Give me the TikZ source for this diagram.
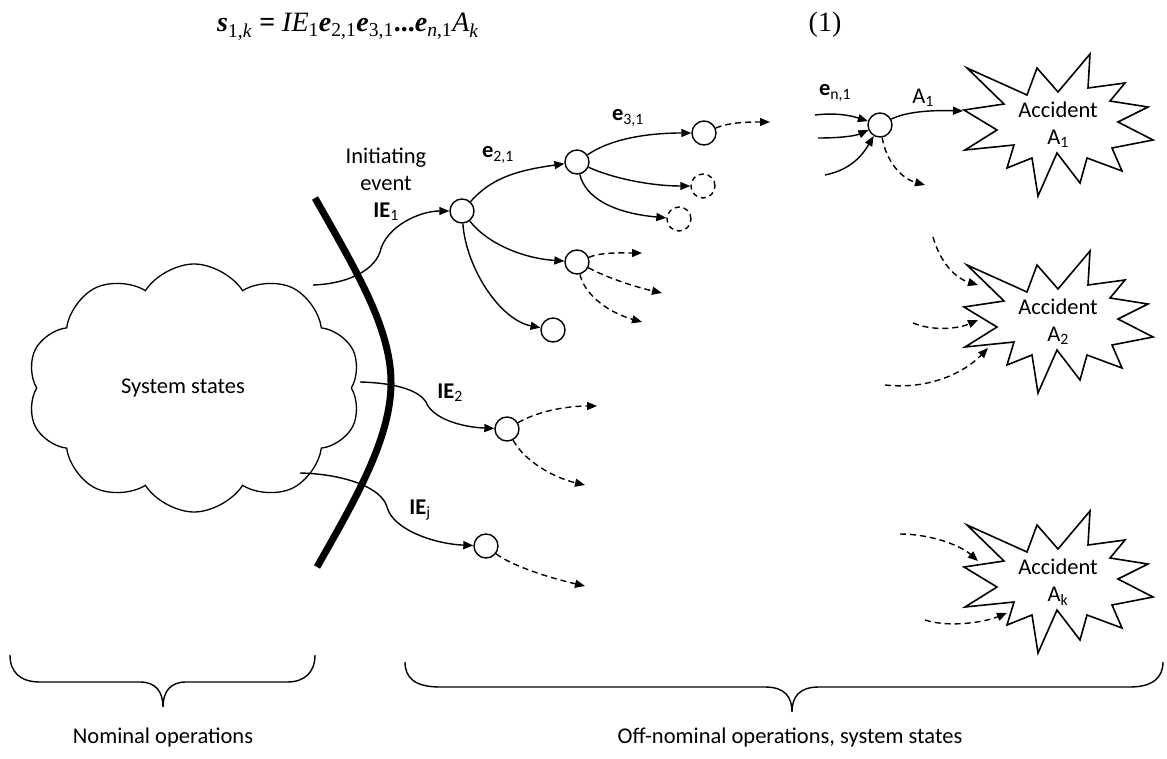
\documentclass[tikz,border=0pt]{standalone}
\usepackage{fontspec}
\setmainfont{Carlito}
\newfontfamily\eqfont{Liberation Serif}
\usetikzlibrary{arrows.meta,shapes.symbols}
\tikzset{
  every node/.style={font=\fontsize{22.5}{27}\selectfont, inner sep=0pt},
  conn/.style={line width=1.4pt, -{Triangle[length=10pt,width=8pt]}},
  dconn/.style={conn, dash pattern=on 6pt off 4pt},
  state/.style={circle, draw, line width=1.4pt, minimum size=24pt, fill=white},
  dstate/.style={state, dash pattern=on 5pt off 4pt},
  burst/.style={line width=1.6pt, line join=miter},
  brace/.style={line width=1.4pt},
  boundary/.style={line width=7pt},
  eqstyle/.style={font=\eqfont\fontsize{28}{34}\selectfont},
}
\begin{document}
\begin{tikzpicture}[x=1pt,y=-1pt]
\useasboundingbox (0,0) rectangle (1167,759);

% equation
\node[eqstyle, anchor=base west] (eq) at (217,32) {\textbf{\textit{s}}\textsubscript{1,\textit{k}} \textbf{=} \textit{IE}\textsubscript{1}\textbf{\textit{e}}\textsubscript{2,1}\textbf{\textit{e}}\textsubscript{3,1}\textbf{...}\textbf{\textit{e}}\textsubscript{\textit{n},1}\textit{A}\textsubscript{\textit{k}}};
\node[eqstyle, anchor=base] (eqn) at (825,32) {(1)};

% cloud
\node[cloud, draw, line width=1.3pt, cloud puffs=10, cloud puff arc=115, minimum width=334pt, minimum height=248pt] (cloud) at (194,388) {};
\node (systxt) at (183,388) {System states};

% boundary
\draw[boundary] (315,198) .. controls (357,272) and (392,330) .. (391,385) .. controls (390,440) and (355,500) .. (317,567);

% state nodes
\node[state] (C1) at (462,211) {};
\node[state] (C2) at (577,162) {};
\node[state] (C3) at (577,262) {};
\node[state] (C4) at (553,330) {};
\node[state] (C5) at (704,133) {};
\node[dstate] (D1) at (703,186) {};
\node[dstate] (D2) at (679,219) {};
\node[state] (Cn) at (880,125) {};
\node[state] (F2) at (507,429) {};
\node[state] (Fj) at (486,546) {};

% labels
\node[align=center] (lIE1) at (386,184) {Initiating\\event\\\textbf{IE}\textsubscript{1}};
\node (le21) at (498,155) {\textbf{e}\textsubscript{2,1}};
\node (le31) at (628,118) {\textbf{e}\textsubscript{3,1}};
\node (len1) at (835,93) {\textbf{e}\textsubscript{n,1}};
\node (lA1) at (923,98) {A\textsubscript{1}};
\node (lIE2) at (450,393) {\textbf{IE}\textsubscript{2}};
\node (lIEj) at (420,510) {\textbf{IE}\textsubscript{j}};

% bursts
\node[align=center] (A1) at (1058,125) {Accident\\A\textsubscript{1}};
\node[align=center] (A2) at (1058,322) {Accident\\A\textsubscript{2}};
\node[align=center] (Ak) at (1058,582) {Accident\\A\textsubscript{k}};
\foreach \b in {A1,A2,Ak}{
  \draw[burst, shift={(\b.center)}] (-91,-57) -- (-31,-30) -- (-21,-57) -- (0,-33) -- (32,-71) -- (30,-37) -- (67,-42) -- (52,-24) -- (90,-18) -- (60,-3) -- (95,15) -- (54,23) -- (64,46) -- (29,33) -- (22,58) -- (-1,28) -- (-20,71) -- (-26,33) -- (-51,43) -- (-44,20) -- (-93,25) -- (-61,5) -- (-94,-15) -- (-54,-21) -- cycle;
}

% coordinates
\coordinate (s1) at (313,285);
\coordinate (s2) at (360,382);
\coordinate (sj) at (300,473);
\coordinate (t31) at (642,253);
\coordinate (t32) at (662,293);
\coordinate (t33) at (642,322);
\coordinate (t51) at (770,122);
\coordinate (n1) at (815,115);
\coordinate (n2) at (818,138);
\coordinate (n3) at (825,175);
\coordinate (a1in) at (963,111);
\coordinate (cnout) at (925,185);
\coordinate (b1) at (933,237);
\coordinate (b1e) at (978,285);
\coordinate (b2) at (913,323);
\coordinate (b2e) at (978,320);
\coordinate (b3) at (885,385);
\coordinate (b3e) at (988,348);
\coordinate (k1) at (900,534);
\coordinate (k1e) at (978,561);
\coordinate (k2) at (925,620);
\coordinate (k2e) at (1007,613);
\coordinate (f21) at (597,406);
\coordinate (f22) at (585,485);
\coordinate (fj1) at (585,586);

% connectors
\draw[conn] (s1) .. controls (345,284) and (373,272) .. (380,252) .. controls (386,226) and (420,211) .. (C1);
\draw[conn] (s2) .. controls (400,383) and (420,392) .. (426,402) .. controls (432,418) and (460,427) .. (F2);
\draw[conn] (sj) .. controls (345,474) and (382,488) .. (387,507) .. controls (393,530) and (435,544) .. (Fj);

\draw[conn] (C1) .. controls (490,180) and (512,171) .. (C2);
\draw[conn] (C1) .. controls (486,242) and (520,258) .. (C3);
\draw[conn] (C1) .. controls (466,268) and (500,320) .. (C4);
\draw[conn] (C2) .. controls (612,138) and (650,133) .. (C5);
\draw[conn] (C2) .. controls (612,178) and (650,186) .. (D1);
\draw[conn] (C2) .. controls (585,197) and (612,213) .. (D2);

\draw[dconn] (C3) .. controls (602,252) and (620,253) .. (t31);
\draw[dconn] (C3) .. controls (612,280) and (640,288) .. (t32);
\draw[dconn] (C3) .. controls (585,296) and (610,313) .. (t33);
\draw[dconn] (C5) .. controls (730,122) and (750,122) .. (t51);

\draw[conn] (n1) .. controls (840,112) and (855,117) .. (Cn);
\draw[conn] (n2) .. controls (840,138) and (855,136) .. (Cn);
\draw[conn] (n3) .. controls (850,170) and (862,156) .. (Cn);
\draw[conn] (Cn) .. controls (905,112) and (930,110) .. (a1in);
\draw[dconn] (Cn) .. controls (886,160) and (900,178) .. (cnout);

\draw[dconn] (b1) .. controls (940,262) and (955,278) .. (b1e);
\draw[dconn] (b2) .. controls (935,332) and (960,328) .. (b2e);
\draw[dconn] (b3) .. controls (930,390) and (965,372) .. (b3e);
\draw[dconn] (k1) .. controls (930,534) and (960,545) .. (k1e);
\draw[dconn] (k2) .. controls (950,628) and (985,622) .. (k2e);

\draw[dconn] (F2) .. controls (540,410) and (570,406) .. (f21);
\draw[dconn] (F2) .. controls (525,462) and (555,478) .. (f22);
\draw[dconn] (Fj) .. controls (512,566) and (550,578) .. (fj1);

% braces
\draw[brace] (10,655) .. controls (10,672) and (20,682) .. (40,682) -- (140,682) .. controls (156,682) and (163,692) .. (163,707) .. controls (163,692) and (170,682) .. (186,682) -- (287,682) .. controls (305,682) and (315,672) .. (315,655);
\draw[brace] (405,662) .. controls (405,678) and (415,687) .. (440,687) -- (765,687) .. controls (785,687) and (792,697) .. (792,712) .. controls (792,697) and (799,687) .. (819,687) -- (1130,687) .. controls (1152,687) and (1163,678) .. (1163,662);

\node (nom) at (163,737) {Nominal operations};
\node (off) at (790,737) {Off-nominal operations, system states};
\end{tikzpicture}
\end{document}
